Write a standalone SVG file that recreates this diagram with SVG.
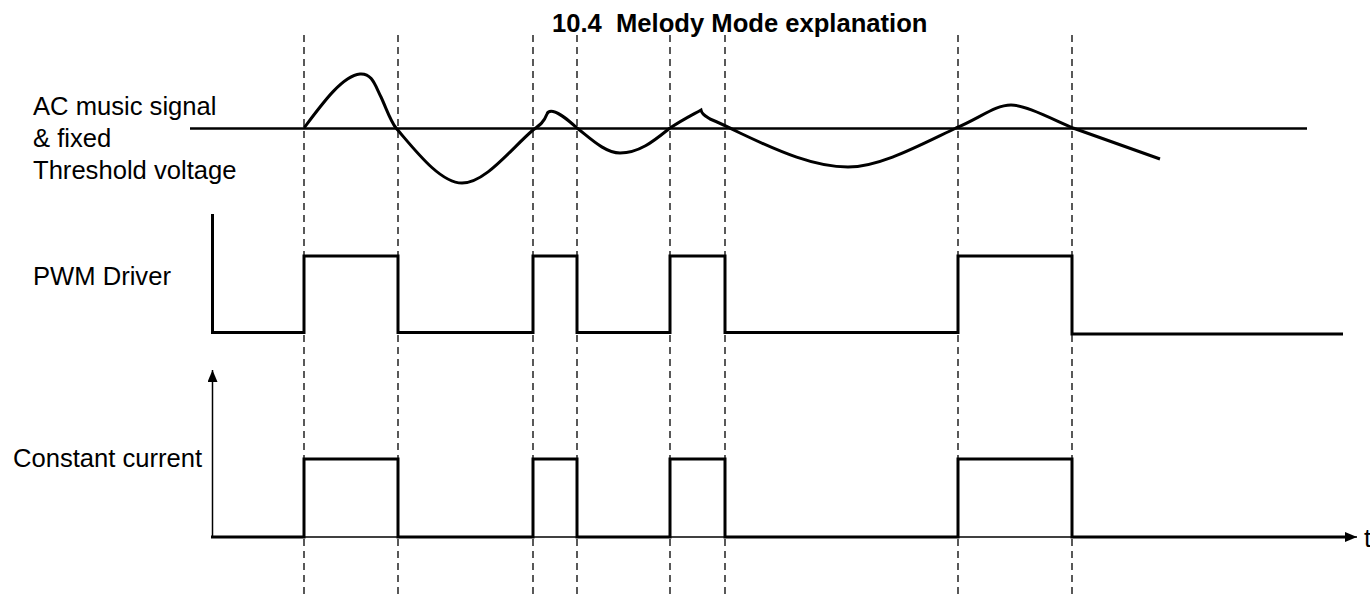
<svg xmlns="http://www.w3.org/2000/svg" width="1370" height="597" viewBox="0 0 1370 597">
<style>
text{font-family:"Liberation Sans",Arial,sans-serif;font-size:25.6px;fill:#000}
.title{font-weight:bold;font-size:25.6px}
.sig{fill:none;stroke:#000;stroke-width:3;stroke-linejoin:miter;stroke-linecap:butt}
.thin{fill:none;stroke:#000;stroke-width:1.5}
.guide{fill:none;stroke:#000;stroke-width:1.3;stroke-dasharray:7 5}
</style>
<defs>
<marker id="ah" viewBox="0 0 12 10" refX="12" refY="5" markerWidth="12" markerHeight="10" markerUnits="userSpaceOnUse" orient="auto">
<path d="M0,0 L12,5 L0,10 Z" fill="#000"/>
</marker>
</defs>
<rect width="1370" height="597" fill="#fff"/>
<g id="title"><text class="title" x="552" y="32" xml:space="preserve">10.4  Melody Mode explanation</text></g>
<g id="guides">
<line class="guide" x1="304" y1="35" x2="304" y2="594"/>
<line class="guide" x1="398" y1="35" x2="398" y2="594"/>
<line class="guide" x1="533" y1="35" x2="533" y2="594"/>
<line class="guide" x1="577" y1="35" x2="577" y2="594"/>
<line class="guide" x1="670" y1="35" x2="670" y2="594"/>
<line class="guide" x1="725" y1="35" x2="725" y2="594"/>
<line class="guide" x1="958" y1="35" x2="958" y2="594"/>
<line class="guide" x1="1072" y1="35" x2="1072" y2="594"/>
</g>
<g id="ac-signal">
<text x="33" y="115">AC music signal</text>
<text x="33" y="147">&amp; fixed</text>
<text x="33" y="179">Threshold voltage</text>
<line x1="190" y1="128.5" x2="1307" y2="128.5" stroke="#000" stroke-width="2.6"/>
<path class="sig" d="M304,128 C322,104 342,76 360,74 C372,73 375,85 381,97 C387,110 390,120 396,128 C415,150 440,183 462,183 C485,183 510,150 533,130 C540,125 544,122 547,114 C548,111 550,111 553,111.5 C560,113 568,120 577,128 C590,138 605,153 620,153 C640,153 655,140 670,128 C682,120 692,115 701,110 C702,114 704,115 710,119 C720,123 730,128 740,133 C780,152 815,167 848,167 C880,167 920,145 956,128 C980,118 995,105 1011,105 C1025,105 1050,118 1073,128 L1160,159"/>
</g>
<g id="pwm-driver">
<text x="33" y="285">PWM Driver</text>
<path class="sig" d="M212.5,214 V332.5"/>
<path class="sig" d="M211,332.5 H304 V256 H398 V332.5 H533 V256 H577 V332.5 H670 V256 H725 V332.5 H958 V256 H1072 V334 H1343"/>
</g>
<g id="constant-current">
<text x="13" y="467">Constant current</text>
<line class="thin" x1="212.5" y1="537" x2="212.5" y2="370" marker-end="url(#ah)"/>
<line class="thin" x1="212" y1="537" x2="1357" y2="537" marker-end="url(#ah)"/>
<path class="sig" d="M211,537 H304 V459 H398 V537 H533 V459 H577 V537 H670 V459 H725 V537 H958 V459 H1072 V537 H1346"/>
<text x="1364" y="547">t</text>
</g>
</svg>
